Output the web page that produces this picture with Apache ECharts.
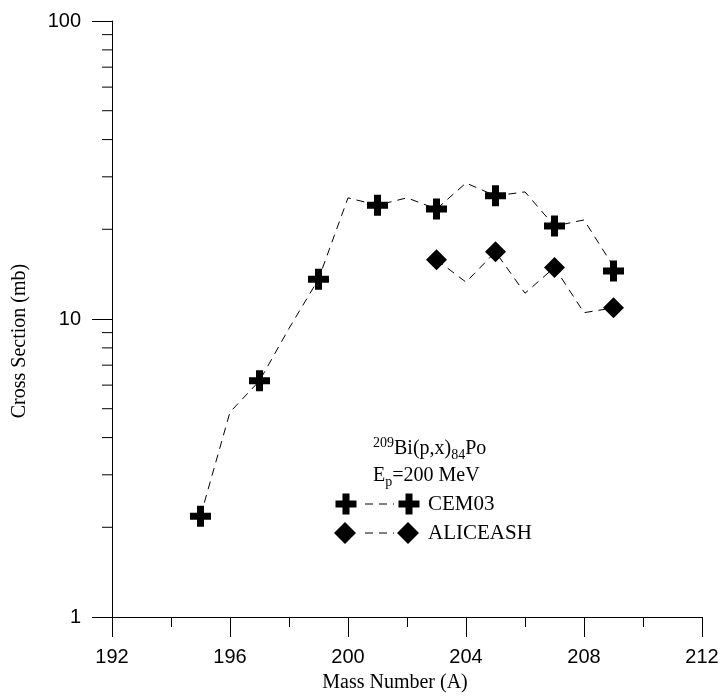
<!DOCTYPE html>
<html>
<head>
<meta charset="utf-8">
<script src="https://cdn.jsdelivr.net/npm/echarts@6/dist/echarts.min.js"></script>
<style>
  html, body { margin: 0; padding: 0; background: #fff; }
  #chart { width: 723px; height: 696px; }
</style>
</head>
<body>
<div id="chart"></div>
<script>
// Mass numbers and cross sections (mb) for 209Bi(p,x)84Po at Ep = 200 MeV
const massLine = [195, 196, 197, 198, 199, 200, 201, 202, 203, 204, 205, 206, 207, 208, 209];
const cemLine = [2.18, 4.87, 6.2, 9.3, 13.6, 25.5, 24.1, 25.5, 23.4, 28.6, 25.9, 26.7, 20.5, 21.5, 15.0];
const cemMass = [195, 197, 199, 201, 203, 205, 207, 209];
const cemValues = [2.18, 6.2, 13.6, 24.1, 23.4, 25.9, 20.5, 14.5];

const aliceLineMass = [203, 204, 205, 206, 207, 208, 209];
const aliceLine = [15.8, 13.3, 16.8, 12.2, 14.9, 10.5, 10.9];
const aliceMass = [203, 205, 207, 209];
const aliceValues = [15.8, 16.8, 14.9, 10.9];

// Log-axis minor tick values (2..9 within each decade)
const yMinorTicks = [2, 3, 4, 5, 6, 7, 8, 9, 20, 30, 40, 50, 60, 70, 80, 90];

const pair = (xs, ys) => xs.map((x, i) => [x, ys[i]]);

const PLUS = 'path://M7,0H14V7H21V14H14V21H7V14H0V7H7Z';
const SANS = '"Liberation Sans", Arial, sans-serif';
const SERIF = '"Liberation Serif", "Times New Roman", serif';

// thick plus outline centred on (cx, cy) for the legend
function plusPoints(cx, cy) {
  const a = 10.5, b = 3.5;
  return [[cx - b, cy - a], [cx + b, cy - a], [cx + b, cy - b], [cx + a, cy - b],
          [cx + a, cy + b], [cx + b, cy + b], [cx + b, cy + a], [cx - b, cy + a],
          [cx - b, cy + b], [cx - a, cy + b], [cx - a, cy - b], [cx - b, cy - b]];
}
function diamondPoints(cx, cy) {
  const r = 11;
  return [[cx, cy - r], [cx + r, cy], [cx, cy + r], [cx - r, cy]];
}

const chart = echarts.init(document.getElementById('chart'), null, { renderer: 'canvas' });

const dashed = { color: '#000', width: 1, type: [8, 6] };

chart.setOption({
  animation: false,
  backgroundColor: '#fff',
  grid: { left: 112, right: 21, top: 21, bottom: 79, containLabel: false, outerBoundsMode: 'none' },
  xAxis: {
    type: 'value',
    min: 192, max: 212, interval: 4,
    name: 'Mass Number (A)',
    nameLocation: 'middle',
    nameGap: 56,
    nameTextStyle: { fontFamily: SERIF, fontSize: 20, color: '#000', padding: [0, 24, 0, 0] },
    axisLine: { lineStyle: { color: '#000', width: 1 } },
    axisTick: { inside: false, length: 20, lineStyle: { color: '#000' } },
    minorTick: { show: true, splitNumber: 2, length: 10, lineStyle: { color: '#000' } },
    axisLabel: { fontFamily: SANS, fontSize: 20, color: '#000', margin: 30 },
    splitLine: { show: false }
  },
  yAxis: {
    type: 'log', logBase: 10, min: 1, max: 100,
    name: 'Cross Section (mb)',
    nameLocation: 'middle',
    nameGap: 82,
    nameRotate: 90,
    nameTextStyle: { fontFamily: SERIF, fontSize: 20, color: '#000', padding: [0, 44, 0, 0] },
    axisLine: { show: true, lineStyle: { color: '#000', width: 1 } },
    axisTick: { show: true, inside: false, length: 20, lineStyle: { color: '#000' } },
    axisLabel: { fontFamily: SANS, fontSize: 20, color: '#000', margin: 31 },
    splitLine: { show: false }
  },
  series: [
    {
      name: 'CEM03 line', type: 'line', data: pair(massLine, cemLine),
      showSymbol: false, symbol: 'none', lineStyle: dashed, z: 2
    },
    {
      name: 'ALICEASH line', type: 'line', data: pair(aliceLineMass, aliceLine),
      showSymbol: false, symbol: 'none', lineStyle: dashed, z: 2
    },
    {
      name: 'CEM03', type: 'scatter', data: pair(cemMass, cemValues),
      symbol: PLUS, symbolSize: 21, itemStyle: { color: '#000', opacity: 1 }, z: 3
    },
    {
      name: 'ALICEASH', type: 'scatter', data: pair(aliceMass, aliceValues),
      symbol: 'diamond', symbolSize: 21, itemStyle: { color: '#000', opacity: 1 }, z: 3
    },
    {
      // minor ticks of the log axis, placed through the axis scale
      type: 'custom', clip: false, silent: true, z: 1,
      data: yMinorTicks.map(v => [192, v]),
      renderItem: (params, api) => {
        const p = api.coord([api.value(0), api.value(1)]);
        return {
          type: 'line',
          shape: { x1: p[0] - 10, y1: p[1], x2: p[0], y2: p[1] },
          style: { stroke: '#000', lineWidth: 1 }
        };
      }
    }
  ],
  graphic: [
    {
      type: 'text', x: 373, y: 436,
      style: {
        text: '{sup|209}{n|Bi(p,x)}{sub|84}{n|Po}',
        rich: {
          n: { fontFamily: SERIF, fontSize: 20, fill: '#000', lineHeight: 26, verticalAlign: 'middle' },
          sup: { fontFamily: SERIF, fontSize: 14, fill: '#000', verticalAlign: 'top', lineHeight: 14 },
          sub: { fontFamily: SERIF, fontSize: 14, fill: '#000', verticalAlign: 'bottom', lineHeight: 14 }
        }
      }
    },
    {
      type: 'text', x: 373, y: 463,
      style: {
        text: '{n|E}{sub|p}{n|=200 MeV}',
        rich: {
          n: { fontFamily: SERIF, fontSize: 20, fill: '#000', lineHeight: 26, verticalAlign: 'middle' },
          sub: { fontFamily: SERIF, fontSize: 14, fill: '#000', verticalAlign: 'bottom', lineHeight: 14 }
        }
      }
    },
    // legend row: CEM03
    { type: 'polygon', shape: { points: plusPoints(346, 504) }, style: { fill: '#000' } },
    { type: 'line', shape: { x1: 365, y1: 504, x2: 394, y2: 504 }, style: { stroke: '#000', lineWidth: 1, lineDash: [8, 6] } },
    { type: 'polygon', shape: { points: plusPoints(409, 504) }, style: { fill: '#000' } },
    { type: 'text', x: 428, y: 494, style: { text: 'CEM03', fontFamily: SERIF, fontSize: 21, fill: '#000' } },
    // legend row: ALICEASH
    { type: 'polygon', shape: { points: diamondPoints(345, 533) }, style: { fill: '#000' } },
    { type: 'line', shape: { x1: 365, y1: 533, x2: 394, y2: 533 }, style: { stroke: '#000', lineWidth: 1, lineDash: [8, 6] } },
    { type: 'polygon', shape: { points: diamondPoints(408, 533) }, style: { fill: '#000' } },
    { type: 'text', x: 428, y: 523, style: { text: 'ALICEASH', fontFamily: SERIF, fontSize: 21, fill: '#000' } }
  ]
});
</script>
</body>
</html>
